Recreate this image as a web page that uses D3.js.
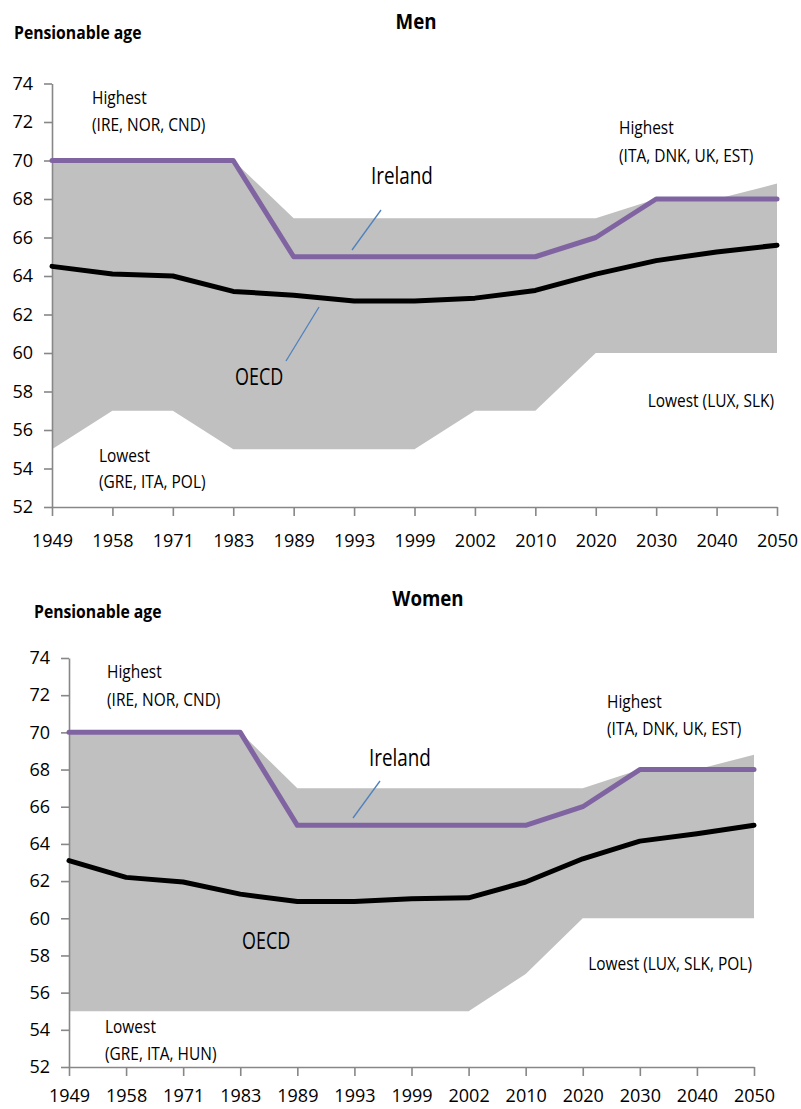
<!DOCTYPE html>
<html>
<head>
<meta charset="utf-8">
<script src="https://cdn.jsdelivr.net/npm/d3@7"></script>
<style>
  body { margin: 0; background: #fff; }
  svg text { font-family: "Open Sans", sans-serif; fill: #000; }
</style>
</head>
<body>
<div id="chart"></div>
<script>
// categories
const years = ["1949", "1958", "1971", "1983", "1989", "1993", "1999", "2002", "2010", "2020", "2030", "2040", "2050"];
const yTicks = [52, 54, 56, 58, 60, 62, 64, 66, 68, 70, 72, 74];

// men
const menHighest = [70, 70, 70, 70, 67, 67, 67, 67, 67, 67, 68, 68, 68.8];
const menLowest  = [55, 57, 57, 55, 55, 55, 55, 57, 57, 60, 60, 60, 60];
const menIreland = [70, 70, 70, 70, 65, 65, 65, 65, 65, 66, 68, 68, 68];
const menOECD    = [64.5, 64.1, 64.0, 63.2, 63.0, 62.7, 62.7, 62.85, 63.25, 64.1, 64.8, 65.25, 65.6];

// women
const womenHighest = [70, 70, 70, 70, 67, 67, 67, 67, 67, 67, 68, 68, 68.8];
const womenLowest  = [55, 55, 55, 55, 55, 55, 55, 55, 57, 60, 60, 60, 60];
const womenIreland = [70, 70, 70, 70, 65, 65, 65, 65, 65, 66, 68, 68, 68];
const womenOECD    = [63.1, 62.2, 61.95, 61.3, 60.9, 60.9, 61.05, 61.1, 61.95, 63.2, 64.15, 64.55, 65.0];

const svg = d3.select("#chart").append("svg")
  .attr("width", 801)
  .attr("height", 1109);

// text squeezed a bit horizontally, like the narrow font of the original
function label(g, x, y, str, size, opts = {}) {
  return g.append("text")
    .attr("transform", `translate(${x},${y}) scale(${opts.sx || 0.86},1)`)
    .attr("text-anchor", opts.anchor || "start")
    .attr("font-weight", opts.bold ? "bold" : null)
    .attr("font-size", size)
    .text(str);
}

function drawPanel(p) {
  const x = d3.scalePoint().domain(years).range([p.left, p.right]);
  const y = d3.scaleLinear().domain([52, 74]).range([p.bottom, p.top]);

  const rows = years.map((yr, i) => ({
    year: yr, hi: p.highest[i], lo: p.lowest[i], ire: p.ireland[i], oecd: p.oecd[i]
  }));

  const g = svg.append("g");

  // grey band between lowest and highest
  g.append("path")
    .datum(rows)
    .attr("fill", "#c0c0c0")
    .attr("d", d3.area().x(d => x(d.year)).y0(d => y(d.lo)).y1(d => y(d.hi)));

  // axes
  const yAxis = g.append("g")
    .attr("transform", `translate(${p.left},0)`)
    .call(d3.axisLeft(y).tickValues(yTicks).tickSize(8).tickSizeOuter(0).tickPadding(11));
  const xAxis = g.append("g")
    .attr("transform", `translate(0,${p.bottom})`)
    .call(d3.axisBottom(x).tickSize(9).tickSizeOuter(0).tickPadding(p.xPad));
  [yAxis, xAxis].forEach(a => {
    a.attr("font-family", null);
    a.select(".domain").attr("stroke", "#878787").attr("stroke-width", 1.6);
    a.selectAll(".tick line").attr("stroke", "#878787").attr("stroke-width", 1.6);
    a.selectAll(".tick text")
      .attr("font-size", 18)
      .attr("fill", "#000");
  });

  // Ireland line
  g.append("path")
    .datum(rows)
    .attr("fill", "none")
    .attr("stroke", "#8064a2")
    .attr("stroke-width", 5)
    .attr("stroke-linejoin", "round")
    .attr("stroke-linecap", "round")
    .attr("d", d3.line().x(d => x(d.year)).y(d => y(d.ire)));

  // OECD average line
  g.append("path")
    .datum(rows)
    .attr("fill", "none")
    .attr("stroke", "#000")
    .attr("stroke-width", 5)
    .attr("stroke-linejoin", "round")
    .attr("stroke-linecap", "round")
    .attr("d", d3.line().x(d => x(d.year)).y(d => y(d.oecd)));

  // leader lines
  p.leaders.forEach(l => {
    g.append("line")
      .attr("x1", l[0]).attr("y1", l[1]).attr("x2", l[2]).attr("y2", l[3])
      .attr("stroke", "#4f81bd").attr("stroke-width", 1.3);
  });

  // title and y label
  label(g, p.titleX, p.titleY, p.title, 22, {anchor: "middle", bold: true, sx: 0.85});
  label(g, p.yLabelX, p.yLabelY, "Pensionable age", 17.5, {bold: true, sx: 0.9});

  // annotations
  p.notes.forEach(n => {
    label(g, n.x, n.y, n.text, n.size || 18, {anchor: n.anchor, sx: n.sx || 0.86});
  });
}

drawPanel({
  title: "Men", titleX: 416, titleY: 29, yLabelX: 14, yLabelY: 39,
  left: 52, right: 777, top: 83.5, bottom: 507, xPad: 18,
  highest: menHighest, lowest: menLowest, ireland: menIreland, oecd: menOECD,
  leaders: [[352, 250, 381, 210], [286, 361, 319, 307]],
  notes: [
    {text: "Highest", x: 92, y: 104},
    {text: "(IRE, NOR, CND)", x: 92, y: 131},
    {text: "Highest", x: 619, y: 134},
    {text: "(ITA, DNK, UK, EST)", x: 619, y: 162},
    {text: "Lowest (LUX, SLK)", x: 774, y: 407, anchor: "end"},
    {text: "Lowest", x: 99, y: 462},
    {text: "(GRE, ITA, POL)", x: 99, y: 488},
    {text: "Ireland", x: 371, y: 184, size: 23, sx: 0.82},
    {text: "OECD", x: 235, y: 385, size: 23, sx: 0.78}
  ]
});

drawPanel({
  title: "Women", titleX: 428, titleY: 606, yLabelX: 34, yLabelY: 618,
  left: 69, right: 754, top: 658, bottom: 1067, xPad: 13,
  highest: womenHighest, lowest: womenLowest, ireland: womenIreland, oecd: womenOECD,
  leaders: [[353, 818, 380, 781]],
  notes: [
    {text: "Highest", x: 107, y: 678},
    {text: "(IRE, NOR, CND)", x: 107, y: 706},
    {text: "Highest", x: 607, y: 708},
    {text: "(ITA, DNK, UK, EST)", x: 607, y: 735},
    {text: "Lowest (LUX, SLK, POL)", x: 752, y: 970, anchor: "end"},
    {text: "Lowest", x: 105, y: 1033},
    {text: "(GRE, ITA, HUN)", x: 105, y: 1060},
    {text: "Ireland", x: 369, y: 766, size: 23, sx: 0.82},
    {text: "OECD", x: 242, y: 949, size: 23, sx: 0.78}
  ]
});
</script>
</body>
</html>
